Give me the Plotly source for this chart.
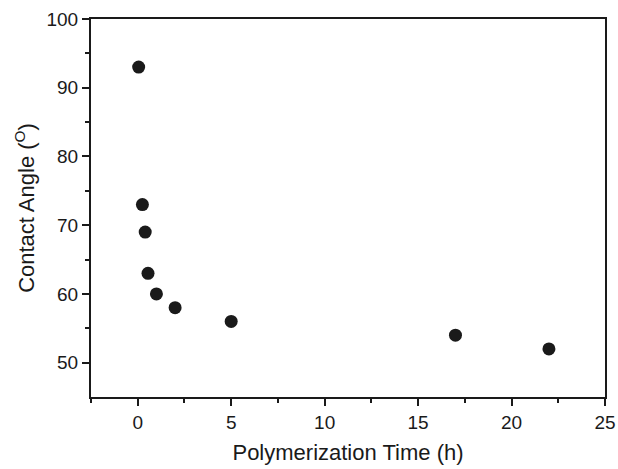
import plotly.graph_objects as go

time_h = [0.05, 0.25, 0.4, 0.55, 1, 2, 5, 17, 22]
contact_angle = [93, 73, 69, 63, 60, 58, 56, 54, 52]

fig = go.Figure()
fig.add_trace(go.Scatter(
    x=time_h, y=contact_angle, mode="markers",
    marker=dict(size=13, color="#1a1a1a", line=dict(width=0)),
    showlegend=False,
    cliponaxis=False,
))

tick_font = dict(family="Liberation Sans, Arial, sans-serif", size=19, color="#1a1a1a")
title_font = dict(family="Liberation Sans, Arial, sans-serif", size=22, color="#1a1a1a")

fig.update_layout(
    width=618, height=469,
    margin=dict(l=91, r=13, t=19, b=72),
    paper_bgcolor="white", plot_bgcolor="white",
    font=tick_font,
    xaxis=dict(
        range=[-2.5, 25], tickmode="array", tickvals=[0, 5, 10, 15, 20, 25],
        ticks="outside", ticklen=7, tickwidth=1.5, tickcolor="#1a1a1a",
        minor=dict(tickvals=[-2.5, 2.5, 7.5, 12.5, 17.5, 22.5], ticks="outside", ticklen=4, tickwidth=1.5, tickcolor="#1a1a1a"),
        showline=True, linewidth=2, linecolor="#1a1a1a", mirror=True,
        showgrid=False, zeroline=False, automargin=False,
        title=dict(text="Polymerization Time (h)", standoff=13, font=title_font),
        tickfont=tick_font,
    ),
    yaxis=dict(
        range=[45, 100], tickmode="array", tickvals=[50, 60, 70, 80, 90, 100],
        ticks="outside", ticklen=7, tickwidth=1.5, tickcolor="#1a1a1a",
        minor=dict(tickvals=[55, 65, 75, 85, 95], ticks="outside", ticklen=4, tickwidth=1.5, tickcolor="#1a1a1a"),
        showline=True, linewidth=2, linecolor="#1a1a1a", mirror=True,
        showgrid=False, zeroline=False, automargin=False,
        title=dict(text="Contact Angle (<sup>O</sup>)", standoff=6, font=title_font),
        tickfont=tick_font,
    ),
)

fig.write_html(
    "out.html",
    config={"displayModeBar": False},
    post_script="document.body.style.margin='0';document.body.style.overflow='hidden';",
)
